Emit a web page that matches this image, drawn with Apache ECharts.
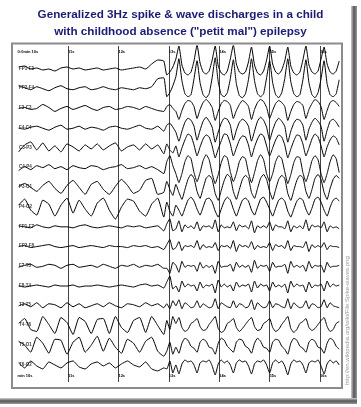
<!DOCTYPE html>
<html><head><meta charset="utf-8">
<script src="https://cdn.jsdelivr.net/npm/echarts@6/dist/echarts.min.js"></script>
<style>html,body{margin:0;padding:0;background:#fff}#c{width:361px;height:407px}</style>
</head><body><div id="c"></div>
<script>
const channelNames = ["FP1-F3","FP2-F4","F3-C3","F4-C4","C3-P3","C4-P4","P3-O1","P4-O2",
  "FP1-F7","FP2-F8","F7-T3","F8-T4","T3-T5","T4-T6","T5-O1","T6-O2"];
const secTicks = [10,11,12,13,14,15,16];
const topLabelFirst = "0:0min 10s";
const bottomLabelFirst = "min 10s";

// deflections in px (up = positive); 25 background samples then 58 discharge samples
const fp1f3 = [2,3,0,1,-1,0,-2,1,2,0,1,-1,0,1,-1,0,1,-1,0,1,2,0,5,9,8,
  -6,-3,2,10, 23,4,-4,-6,-3,8, 24,6,-3,-5,-2,9, 23,3,-4,-6,-2,10, 24,5,-3,-5,-3,7, 22,4,-4,-6,-2,9, 23,5,-3,-5,-1,8, 22,3,-4,-6,-3,9, 23,4,-3,-5,-2,10, 22,5,-3,-5,-2,8];
const fp2f4 = [3,1,-1,2,0,-2,1,3,0,-1,1,2,-1,0,2,0,-1,1,0,-1,1,0,2,10,11,
  -8,-4,3,12, 30,8,-5,-8,-6,10, 28,6,-6,-9,-5,11, 31,7,-6,-8,-4,10, 29,5,-7,-9,-5,9, 30,8,-5,-8,-5,11, 28,6,-6,-9,-4,10, 30,7,-5,-8,-6,9, 29,6,-6,-9,-4,10, 28,5,-6,-8,-5,9];
const f3c3 = [0,1,-1,0,4,1,-3,0,2,-1,1,3,0,-2,1,2,-1,0,2,1,-1,2,0,-2,-3,
  2,4,0,-3, -11,-2,5,8,7,2, -10,-1,6,9,6,1, -12,-3,5,8,7,3, -10,-2,4,8,6,2, -11,-1,6,9,7,1, -10,-2,5,8,6,2, -12,-3,4,7,6,3, -10,-1,5,9,7,2, -11,-2,6,8,6,2];
const f4c4 = [0,-1,1,2,0,-2,1,3,-1,0,2,-1,1,0,-2,1,2,0,-1,1,3,0,-1,2,-3,
  3,5,1,-4, -13,-3,6,10,8,2, -12,-2,7,11,7,1, -14,-4,5,10,9,3, -12,-2,6,9,7,2, -13,-3,7,11,8,1, -12,-2,6,10,7,2, -14,-3,5,9,8,3, -12,-1,6,10,7,2, -13,-2,7,9,6,1];
const c3p3 = [-4,3,6,-2,5,-3,2,-4,4,1,-3,3,-1,4,-2,2,5,-3,1,3,-2,4,-1,3,-6,
  4,-2,-5,2, -9,0,8,14,12,3, -8,1,9,13,11,2, -10,-1,7,14,13,4, -8,0,8,12,11,3, -9,1,9,14,12,2, -8,0,8,13,11,3, -10,-1,7,13,12,4, -8,0,9,14,11,2, -9,1,8,12,10,3];
const c4p4 = [-3,1,-2,2,0,3,-1,1,-2,2,0,-1,2,1,-2,0,1,3,-1,0,2,-1,1,-2,-6,
  6,12,2,-6, -15,-6,6,12,9,-5, -14,-5,7,13,8,-6, -16,-7,5,12,10,-4, -14,-6,6,11,9,-5, -15,-5,7,13,8,-6, -14,-6,6,12,9,-4, -16,-7,5,11,10,-5, -14,-5,7,12,8,-6, -15,-6,6,13,9,-5];
const p3o1 = [1,4,0,-4,2,6,-1,-6,2,7,0,-7,3,6,-2,-7,1,8,2,-6,-3,7,9,-7,-5,
  6,-2,-8,3, -5,-12,-2,8,13,9, -4,-11,-1,9,12,8, -6,-13,-3,7,13,10, -4,-12,-2,8,12,9, -5,-11,-1,9,13,8, -4,-12,-2,8,12,9, -6,-13,-3,7,12,10, -4,-11,-2,9,13,8, -5,-12,-1,8,12,9];
const p4o2 = [2,8,-3,-8,7,3,-9,2,9,-6,7,-2,-9,4,9,-3,-12,0,8,6,-4,-9,3,9,-10,
  5,-4,-9,2, -3,-9,-1,7,10,6, -2,-8,0,8,9,5, -4,-10,-2,6,10,7, -2,-9,-1,7,9,6, -3,-8,0,8,10,5, -2,-9,-1,7,9,6, -4,-10,-2,6,9,7, -2,-8,-1,8,10,5, -3,-9,0,7,9,6];
const fp1f7 = [1,0,-1,2,0,-1,1,0,0,-1,1,2,0,-1,0,1,0,-1,1,0,1,-1,0,1,-4,
  3,8,-4,-2, 6,-5,2,-1,1,-2, 5,-4,1,0,1,-2, 7,-5,2,-1,0,-1, 5,-4,2,0,1,-2, 6,-6,1,-1,1,-1, 5,-4,2,0,0,-2, 6,-5,1,-1,1,-2, 7,-4,2,0,1,-1, 5,-5,1,-1,0,-2];
const fp2f8 = [0,1,-1,0,1,2,0,-1,0,1,-1,0,1,0,-1,1,0,0,-1,1,0,1,-1,0,-3,
  2,7,-3,-1, 5,-4,1,0,1,-1, 6,-3,2,-1,0,-1, 4,-4,1,0,1,-2, 6,-5,2,0,1,-1, 5,-3,1,-1,0,-1, 4,-4,2,0,1,-2, 6,-4,1,0,0,-1, 5,-5,2,-1,1,-1, 4,-3,1,0,0,-1];
const f7t3 = [-1,1,2,-1,0,2,1,-2,1,2,-1,0,1,-1,2,0,-2,1,0,2,-1,1,0,2,-2,
  -2,-7,4,1, -6,5,-1,1,0,1, -5,4,-2,1,-1,1, -7,5,-1,0,0,2, -5,4,-1,1,-1,1, -6,6,-2,1,0,1, -5,4,-1,0,0,2, -7,5,-1,1,-1,1, -5,5,-2,1,0,1, -6,4,-1,0,0,1];
const f8t4 = [0,-1,0,1,0,-1,1,0,0,1,-1,0,0,1,0,-1,0,1,0,-1,1,2,0,1,-2,
  4,10,-3,0, -6,5,-1,2,0,1, -5,4,-2,1,0,2, -7,6,-1,2,-1,1, -5,4,-1,1,0,2, -6,5,-2,2,0,1, -5,4,-1,1,-1,2, -7,5,-1,2,0,1, -6,4,-2,1,0,2, -5,5,-1,2,0,1];
const t3t5 = [0,2,-1,3,-2,2,1,-2,3,-1,2,-2,0,2,-1,3,0,-2,2,1,-1,3,0,2,-2,
  2,-3,5,0, 6,-3,3,1,-2,-1, 5,-2,2,0,-2,-1, 7,-3,3,1,-1,-2, 5,-2,2,1,-2,-1, 6,-4,3,0,-2,-1, 5,-2,2,1,-1,-2, 7,-3,3,0,-2,-1, 5,-3,2,1,-2,-1, 6,-2,3,0,-1,-2];
const t4t6 = [2,7,-4,-6,9,1,-8,8,3,-9,8,4,-8,6,7,-8,9,-2,-7,5,8,-7,9,0,-9,
  5,-4,9,2, 8,-2,-6,-4,2,4, 7,-1,-5,-4,1,5, 9,-3,-7,-5,2,4, 7,-2,-6,-3,1,5, 8,-1,-5,-4,2,4, 7,-2,-6,-4,1,5, 9,-3,-7,-4,2,4, 7,-2,-5,-3,1,5, 8,-1,-6,-4,2,4];
const t5o1 = [4,0,-7,8,2,-8,6,5,-9,3,8,-7,0,9,-6,7,-2,-8,6,2,-7,4,8,-6,-11,
  -6,3,-9,-2, -8,2,7,5,-1,-3, -7,3,6,4,-2,-3, -9,2,7,5,-1,-4, -7,3,6,5,-1,-3, -8,2,7,4,-2,-3, -7,3,6,5,-1,-4, -9,2,7,5,-1,-3, -7,3,6,4,-2,-3, -8,2,7,5,-1,-4];
const t6o2 = [2,-3,4,-1,-4,3,0,-3,2,4,-2,-4,1,3,-1,2,-3,1,4,0,-2,3,-4,-6,-3,
  -4,4,-8,0, -9,1,5,3,4,0, -8,2,4,3,5,-1, -10,1,5,2,4,0, -8,2,5,3,4,-1, -9,1,4,3,5,0, -8,2,5,2,4,-1, -10,1,5,3,4,0, -8,2,4,3,5,-1, -9,1,5,2,4,0];

const traces = [fp1f3,fp2f4,f3c3,f4c4,c3p3,c4p4,p3o1,p4o2,fp1f7,fp2f8,f7t3,f8t4,t3t5,t4t6,t5o1,t6o2];

// sampling grid (seconds)
const bgStart = 10.02, bgStep = 0.12, bgCount = 25, szStart = 12.96, szStep = 0.06;
function timeAt(k){ return k < bgCount ? bgStart + bgStep*k : szStart + szStep*(k - bgCount); }

// layout
const GRID_TOP = 46, GRID_H = 336, ROW0 = 23, ROW_GAP = 19.73;
const baseOf = i => ROW0 + ROW_GAP*i;

const chart = echarts.init(document.getElementById('c'), null, {renderer:'canvas'});
const series = traces.map((vals, i) => ({
  type:'line', xAxisIndex:0, yAxisIndex:0,
  data: vals.map((v,k) => [timeAt(k), baseOf(i) - v]),
  symbol:'none', smooth:0.15, silent:true, animation:false,
  lineStyle:{color:'#000', width:1}
}));
series.push({
  type:'scatter', xAxisIndex:0, yAxisIndex:0, symbolSize:0, silent:true, animation:false,
  data: channelNames.map((n,i) => ({name:n, value:[10.03, baseOf(i) - 0.5]})),
  label:{show:true, position:'right', distance:0, formatter:p=>p.name,
    fontSize:4.5, fontWeight:'bold', color:'#000', fontFamily:'Liberation Sans'}
});

const tickLabel = (first) => ({
  inside:true, align:'left', fontSize:4, fontWeight:'bold', color:'#000', margin:4,
  fontFamily:'Liberation Sans', showMaxLabel:true, hideOverlap:false,
  customValues: secTicks,
  formatter: v => v === 10 ? first : (v + 's')
});

chart.setOption({
  animation:false,
  backgroundColor:'#fff',
  title:{
    text:'Generalized 3Hz spike & wave discharges in a child\nwith childhood absence ("petit mal") epilepsy',
    left:'center', top:1,
    textStyle:{fontSize:11.7, fontWeight:'bold', color:'#1c1c73', lineHeight:17, fontFamily:'Liberation Sans'}
  },
  grid:{left:17.6, top:GRID_TOP, width:322.6, height:GRID_H},
  xAxis:[
    {type:'value', min:10, max:16.4, interval:1, position:'top',
      axisLine:{show:false}, axisTick:{show:false},
      splitLine:{show:true, showMinLine:false, showMaxLine:false, lineStyle:{color:'#444', width:1}},
      axisLabel: tickLabel(topLabelFirst)},
    {type:'value', min:10, max:16.4, interval:1, position:'bottom',
      axisLine:{show:false}, axisTick:{show:false}, splitLine:{show:false},
      axisLabel: tickLabel(bottomLabelFirst)}
  ],
  yAxis:{type:'value', min:0, max:GRID_H, inverse:true, show:false},
  series,
  graphic:[
    {type:'rect', shape:{x:12, y:43.5, width:330, height:344.5}, style:{fill:'none', stroke:'#8c8c8c', lineWidth:2}, z:100},
    {type:'rect', shape:{x:351, y:6, width:6, height:398},
      style:{fill:new echarts.graphic.LinearGradient(0,0,1,0,[{offset:0,color:'#d0d0d0'},{offset:0.5,color:'#555'},{offset:1,color:'#999'}])}, z:100},
    {type:'rect', shape:{x:0, y:398, width:357, height:6},
      style:{fill:new echarts.graphic.LinearGradient(0,0,0,1,[{offset:0,color:'#d0d0d0'},{offset:0.5,color:'#555'},{offset:1,color:'#999'}])}, z:100},
    {type:'text', x:347, y:385, rotation:Math.PI/2,
      style:{text:'http://en.wikipedia.org/wiki/File:Spike-waves.png', fill:'#9a9a9a', fontSize:6,
        fontFamily:'Liberation Sans', textAlign:'left', textVerticalAlign:'middle'}, z:100}
  ]
});
</script></body></html>
